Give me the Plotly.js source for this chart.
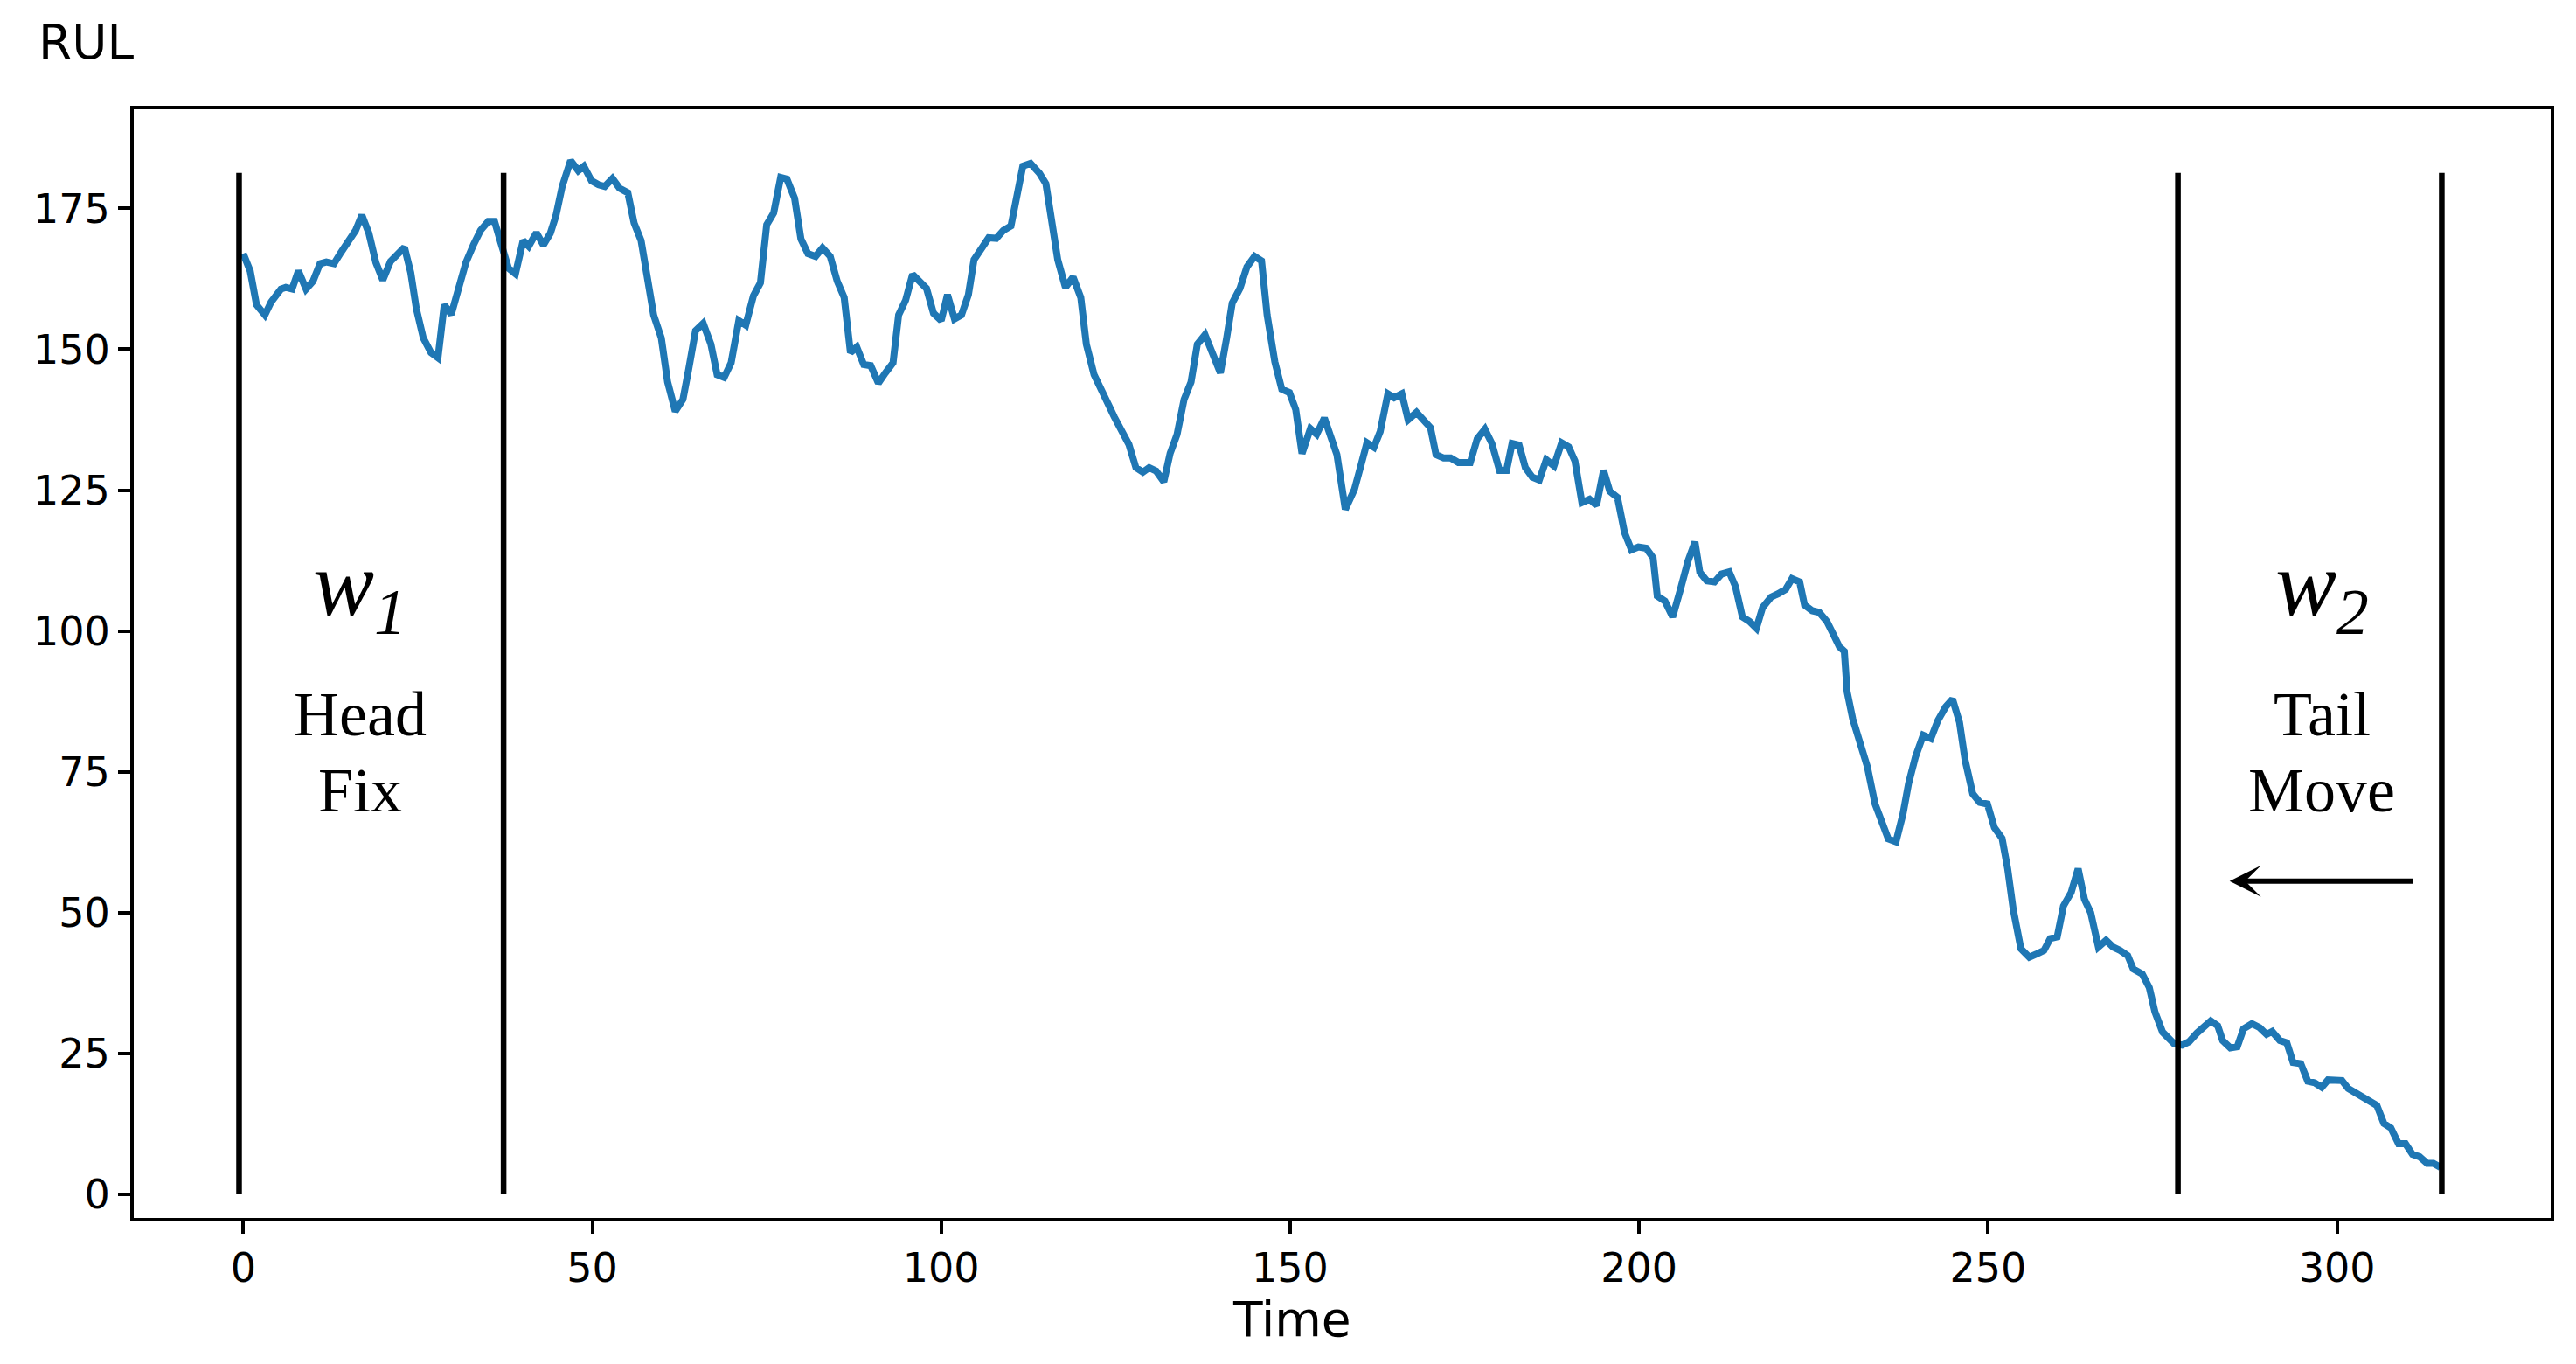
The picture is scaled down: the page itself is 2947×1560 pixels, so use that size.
<!DOCTYPE html>
<html>
<head>
<meta charset="utf-8">
<script src="https://cdn.plot.ly/plotly-3.0.1.min.js"></script>
<style>
html, body { margin: 0; padding: 0; background: #ffffff; }
#chart { width: 2947px; height: 1560px; }
</style>
</head>
<body>
<div id="chart"></div>
<script>
// ---- data ----
const time = [
  0, 1.0, 1.9, 3.1, 4.0, 4.8, 5.4, 6.1, 7.0, 7.9, 9.0, 10.0, 11.0, 11.9, 13.0, 14.0, 15.0, 16.1, 17.0, 18.0,
  19.0, 20.0, 21.1, 22.0, 23.1, 24.0, 24.8, 25.8, 26.9, 27.9, 28.8, 29.8, 30.9, 31.9, 33.0, 34.0, 35.1, 36.0, 36.9, 38.0,
  39.0, 40.1, 40.9, 42.0, 43.0, 44.0, 44.8, 45.7, 46.9, 48.0, 48.8, 49.9, 50.9, 51.8, 52.9, 53.9,
  55.1, 56.0, 57.0, 58.0, 58.8, 59.9, 60.8, 61.9, 63.0, 63.8, 64.8, 65.9, 67.0, 67.9, 68.9, 69.9, 71.0, 72.0, 73.1, 74.1,
  75.0, 76.0, 77.0, 77.9, 79.0, 79.9, 80.9, 82.0, 83.0, 84.1, 85.1, 86.1, 87.0, 87.9, 88.9, 89.9, 91.0, 92.0, 93.1, 93.9,
  94.9, 95.9, 96.8, 97.9, 98.9, 100.0, 100.9, 101.9, 102.9, 103.9, 104.7, 105.8, 106.8, 107.9, 108.9, 110.0, 110.8, 111.7, 112.8,
  114.1, 115.0, 115.8, 116.7, 117.8, 118.9, 120.0, 120.8, 121.9, 122.7, 123.8, 124.8, 125.9, 126.9, 127.9, 128.9, 129.8, 130.8,
  131.9, 132.8, 133.8, 134.8, 135.8, 136.7, 137.8, 138.9, 140.0, 140.9, 141.7, 142.8, 143.8, 144.9, 145.9, 146.7, 147.8, 148.8,
  149.9, 150.8, 151.7, 152.9, 153.8, 154.9, 155.7, 156.7, 157.9, 159.2, 160.1, 161.0, 162.0, 162.9, 164.0, 164.9, 166.0, 166.9,
  168.1, 169.1,
  170.1, 170.9, 172.0, 173.0, 174.1, 175.8, 176.8, 177.9, 178.9, 180.0, 181.0, 181.8, 182.8, 183.7, 184.7, 185.7, 186.7, 187.8,
  188.9, 189.9, 190.8, 191.8, 192.9, 193.9, 194.9, 195.8, 196.9, 197.9, 198.9, 199.9, 201.0, 202.0, 202.6, 203.7, 204.8, 205.9,
  207.0, 208.0, 208.7, 209.7, 210.8, 211.8, 212.9, 213.8, 214.8, 215.8, 216.8, 217.7, 218.9, 219.9, 221.0, 221.9, 223.0, 223.7,
  224.8, 225.8, 226.9, 227.7, 228.7,
  229.4, 229.8, 230.6, 231.7, 232.7, 233.8, 234.8, 235.7, 236.8, 237.8, 238.6, 239.6, 240.7, 241.8, 242.8, 243.9, 244.9, 245.9,
  246.7, 247.8, 248.8, 249.9, 250.9, 252.0, 252.8, 253.6, 254.7, 255.9, 257.0, 258.0, 258.9, 259.9, 260.8, 261.9, 262.9, 263.8,
  264.7, 265.8, 266.9, 267.9, 268.9, 270.0, 270.8, 272.1, 273.1, 273.9, 275.0,
  276.6, 277.8, 278.8, 279.9, 280.9, 281.9, 282.9, 283.6, 284.7, 285.7, 286.6, 287.8, 288.9, 289.9, 290.7, 291.8, 292.8, 293.7,
  294.8, 295.8, 296.8, 297.8, 298.7, 299.7, 300.7, 301.6, 302.7, 303.7, 304.8, 305.7, 306.7, 307.7, 308.8, 309.8, 310.8, 311.8,
  312.9, 313.8, 314.8
];
const rul = [
  167.0, 163.9, 157.9, 156.1, 158.4, 159.7, 160.7, 161.0, 160.7, 163.9, 160.7, 162.1, 165.2, 165.5, 165.2, 167.2, 169.3, 171.1, 173.8, 170.6,
  165.4, 162.3, 165.6, 166.6, 168.1, 163.6, 157.2, 152.0, 149.4, 148.5, 157.9, 156.2, 161.3, 165.4, 168.6, 171.1, 172.7, 172.7, 168.9, 164.4,
  163.4, 169.3, 168.3, 170.7, 168.5, 170.6, 173.7, 178.9, 183.5, 181.7, 182.5, 179.9, 179.2, 178.9, 180.3, 178.6,
  177.8, 172.4, 169.3, 162.8, 156.1, 152.0, 144.2, 139.0, 141.1, 146.3, 153.3, 154.6, 150.9, 145.5, 145.0, 147.6, 155.1, 154.3, 159.5, 161.8,
  172.1, 174.2, 180.5, 180.2, 176.8, 169.6, 167.0, 166.5, 168.0, 166.5, 162.1, 159.2, 149.4, 150.4, 147.3, 147.1, 144.0, 145.8, 147.6, 156.1,
  158.7, 163.3, 162.1, 160.8, 156.4, 155.1, 159.7, 155.4, 156.1, 159.7, 165.9, 168.0, 169.8, 169.7, 171.1, 171.9, 177.6, 182.5, 183.0,
  181.2, 179.4, 173.7, 165.9, 161.0, 162.8, 159.2, 150.9, 145.5, 143.7, 140.6, 138.0, 135.4, 133.1, 129.0, 128.2, 129.0, 128.4,
  126.5, 131.5, 134.9, 141.1, 144.2, 150.9, 152.6, 148.9, 145.8, 152.0, 158.2, 160.8, 164.6, 166.5, 165.7, 156.1, 147.8, 142.9,
  142.3, 139.3, 131.5, 135.9, 134.9, 137.8, 134.9, 131.3, 121.6, 125.1, 129.2, 133.4, 132.6, 135.4, 142.1, 141.4, 142.1, 137.5,
  138.8, 137.3,
  136.1, 131.3, 130.7, 130.7, 129.9, 129.9, 134.1, 135.8, 133.3, 128.5, 128.5, 133.3, 133.0, 129.0, 127.3, 126.8, 130.4, 129.3,
  133.4, 132.7, 130.2, 122.8, 123.4, 122.3, 128.5, 124.8, 123.7, 117.5, 114.4, 114.9, 114.7, 113.0, 106.2, 105.3, 102.5, 107.3,
  112.4, 115.8, 110.4, 108.9, 108.7, 110.1, 110.5, 107.9, 102.5, 101.7, 100.5, 104.2, 106.0, 106.6, 107.4, 109.3, 108.7, 104.6,
  103.6, 103.3, 101.7, 99.7, 97.2,
  96.4, 89.2, 84.4, 79.5, 75.9, 69.3, 65.6, 63.1, 62.6, 67.5, 72.9, 77.7, 81.5, 80.9, 84.1, 86.5, 87.9, 83.8,
  77.1, 71.1, 69.6, 69.3, 65.1, 63.2, 57.8, 50.6, 43.6, 42.1, 42.7, 43.3, 45.4, 45.7, 51.2, 53.6, 57.8, 52.4,
  50.0, 43.9, 45.1, 43.9, 43.3, 42.4, 40.0, 39.1, 36.7, 32.4, 28.8,
  26.8, 26.5, 27.1, 28.6, 29.9, 30.8, 29.9, 27.3, 26.0, 26.2, 29.4, 30.3, 29.6, 28.4, 28.9, 27.3, 26.9, 23.4,
  23.2, 20.1, 19.8, 19.0, 20.3, 20.1, 20.2, 18.8, 18.0, 17.1, 16.2, 15.8, 12.6, 11.8, 9.0, 9.0, 7.1, 6.7,
  5.5, 5.5, 4.8
];
// window boundaries (time) and their common top (RUL)
const windowEdges = [-0.6, 37.3, 277.2, 315.0];
const windowTop = 181.3;
// window labels
const windowNames = ['1', '2'];
const windowKinds = [['Head', 'Fix'], ['Tail', 'Move']];
// tick labels
const xTicks = [0, 50, 100, 150, 200, 250, 300];
const yTicks = [0, 25, 50, 75, 100, 125, 150, 175];
const xLabel = 'Time';
const yLabel = 'RUL';

// ---- traces ----
const traces = [{
  type: 'scatter', mode: 'lines', x: time, y: rul,
  line: { color: '#1f77b4', width: 8 }, hoverinfo: 'skip', showlegend: false
}];
windowEdges.forEach(function (e) {
  traces.push({
    type: 'scatter', mode: 'lines', x: [e, e], y: [0, windowTop],
    line: { color: '#000000', width: 6.5 }, hoverinfo: 'skip', showlegend: false
  });
});

// ---- annotations ----
const serif = 'Liberation Serif, Times New Roman, serif';
const sans = 'DejaVu Sans, sans-serif';
const labelCenters = [16.7, 297.8];
const annotations = [];
windowNames.forEach(function (n, i) {
  const cx = labelCenters[i];
  annotations.push({
    xref: 'x', yref: 'y', x: cx, y: 107.2, showarrow: false,
    xanchor: 'center', yanchor: 'middle',
    text: '<i>w</i><sub><i>' + n + '</i></sub>',
    font: { family: serif, size: 105, color: '#000' }
  });
  annotations.push({
    xref: 'x', yref: 'y', x: cx, y: 85.2, showarrow: false,
    xanchor: 'center', yanchor: 'middle', text: windowKinds[i][0],
    font: { family: serif, size: 72, color: '#000' }
  });
  annotations.push({
    xref: 'x', yref: 'y', x: cx, y: 71.7, showarrow: false,
    xanchor: 'center', yanchor: 'middle', text: windowKinds[i][1],
    font: { family: serif, size: 72, color: '#000' }
  });
});
// moving-tail arrow
annotations.push({
  xref: 'x', yref: 'y', axref: 'x', ayref: 'y',
  x: 284.6, y: 55.6, ax: 311.0, ay: 55.6,
  text: ' ', font: { size: 1 }, showarrow: true,
  arrowhead: 3, arrowsize: 1.0, arrowwidth: 6, arrowcolor: '#000', standoff: 0, startstandoff: 0
});
// axis titles
annotations.push({
  xref: 'paper', yref: 'paper', x: -0.0197, y: 1.0611, showarrow: false,
  xanchor: 'center', yanchor: 'middle', text: yLabel,
  font: { family: sans, size: 55, color: '#000' }
});
annotations.push({
  xref: 'paper', yref: 'paper', x: 0.4792, y: -0.0915, showarrow: false,
  xanchor: 'center', yanchor: 'middle', text: xLabel,
  font: { family: sans, size: 55, color: '#000' }
});

const axisCommon = {
  showline: true, mirror: true, linecolor: '#000', linewidth: 4,
  ticks: 'outside', ticklen: 14, tickwidth: 4, tickcolor: '#000',
  showgrid: false, zeroline: false,
  tickfont: { family: sans, size: 46, color: '#000' }
};

const layout = {
  width: 2947, height: 1560,
  margin: { l: 153, r: 29, t: 125, b: 167, pad: 0 },
  paper_bgcolor: '#ffffff', plot_bgcolor: '#ffffff',
  showlegend: false,
  xaxis: Object.assign({}, axisCommon, {
    range: [-15.69, 330.6], tickmode: 'array', tickvals: xTicks, ticktext: xTicks.map(String)
  }),
  yaxis: Object.assign({}, axisCommon, {
    range: [-4.19, 192.6], tickmode: 'array', tickvals: yTicks, ticktext: yTicks.map(String)
  }),
  annotations: annotations
};

Plotly.newPlot('chart', traces, layout, { staticPlot: true, displayModeBar: false });
</script>
</body>
</html>
